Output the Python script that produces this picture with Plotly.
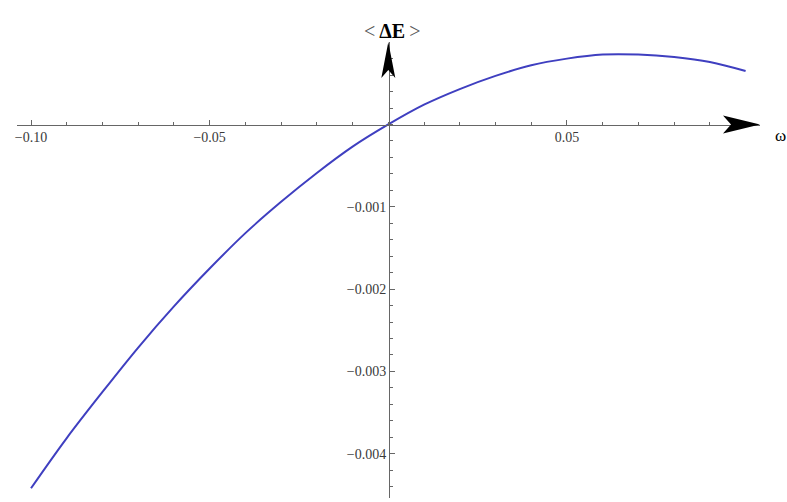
import plotly.graph_objects as go

# omega values and <dE>
omega = [-0.10, -0.09, -0.08, -0.07, -0.06, -0.05, -0.04, -0.03, -0.02, -0.01, 0.0,
         0.01, 0.02, 0.03, 0.04, 0.05, 0.06, 0.07, 0.08, 0.09, 0.10]
delta_e = [-0.00442, -0.00381, -0.00325, -0.00271, -0.00221, -0.00175, -0.00132,
           -0.00094, -0.00059, -0.00027, 0.0, 0.00024, 0.00043, 0.00059, 0.00072,
           0.00080, 0.00085, 0.00085, 0.00082, 0.00076, 0.00065]

x_ticks = [-0.10, -0.05, 0.05]
x_tick_labels = ['\u22120.10', '\u22120.05', '0.05']
y_ticks = [-0.001, -0.002, -0.003, -0.004]
y_tick_labels = ['\u22120.001', '\u22120.002', '\u22120.003', '\u22120.004']

# page body margin is removed in post_script, so figure pixels = page pixels
W, H = 787, 502
x_range = [-0.10392, 0.10403]
y_range = [-0.004538, 0.001002]
px_x = (x_range[1] - x_range[0]) / 743   # data units per pixel
px_y = (y_range[1] - y_range[0]) / 456


def fx(p):
    return p / W


def fy(p):
    return 1 - p / H


font = 'Liberation Serif, Times New Roman, serif'
axis_col = '#666666'

fig = go.Figure()
fig.add_trace(go.Scatter(x=omega, y=delta_e, mode='lines', line_shape='spline',
                         line=dict(color='#3f3fc0', width=2), hoverinfo='skip',
                         showlegend=False))

fig.update_layout(
    width=W, height=H,
    margin=dict(l=0, r=0, t=0, b=0),
    paper_bgcolor='white', plot_bgcolor='white',
    xaxis=dict(domain=[fx(17), fx(760)], range=x_range, anchor='free',
               position=fy(124.5), showgrid=False, zeroline=False, automargin=False,
               showline=True, linecolor=axis_col, linewidth=1,
               tickvals=x_ticks, ticktext=x_tick_labels, ticks='inside',
               ticklen=5, tickcolor=axis_col,
               minor=dict(dtick=0.01, ticks='inside', ticklen=3, tickcolor=axis_col),
               tickfont=dict(family=font, size=14, color='#3a3a3a')),
    yaxis=dict(domain=[fy(498), fy(42)], range=y_range, anchor='free',
               position=fx(389), showgrid=False, zeroline=False, automargin=False,
               showline=True, linecolor=axis_col, linewidth=1,
               tickvals=y_ticks, ticktext=y_tick_labels, ticks='inside',
               ticklen=5, tickcolor=axis_col,
               minor=dict(dtick=0.0002, ticks='inside', ticklen=3, tickcolor=axis_col),
               tickfont=dict(family=font, size=14, color='#3a3a3a')),
)

# arrowheads at the axis ends
xt = x_range[1]
xl, hw, notch = 37 * px_x, 9 * px_y, 8 * px_x
fig.add_shape(type='path', xref='x', yref='y', fillcolor='black', line=dict(width=0),
              path=f'M {xt},0 L {xt - xl},{hw} L {xt - xl + notch},0 L {xt - xl},{-hw} Z')
yt = y_range[1]
yl, hwx, notchy = 36 * px_y, 7 * px_x, 8 * px_y
fig.add_shape(type='path', xref='x', yref='y', fillcolor='black', line=dict(width=0),
              path=f'M 0,{yt} L {hwx},{yt - yl} L 0,{yt - yl + notchy} L {-hwx},{yt - yl} Z')

fig.add_annotation(text='<span style="color:#555">&lt;</span>\u2009<b>\u0394E</b>\u2009'
                        '<span style="color:#555">&gt;</span>',
                   xref='paper', yref='paper',
                   x=fx(392), y=fy(18), showarrow=False,
                   font=dict(family=font, size=20, color='black'))
fig.add_annotation(text='\u03c9', xref='paper', yref='paper', xanchor='left',
                   x=fx(773), y=fy(124), showarrow=False,
                   font=dict(family=font, size=17, color='black'))

fig.write_html('out.html', config={'displayModeBar': False},
               post_script="document.body.style.margin='0';"
                           "document.body.style.overflow='hidden';")
